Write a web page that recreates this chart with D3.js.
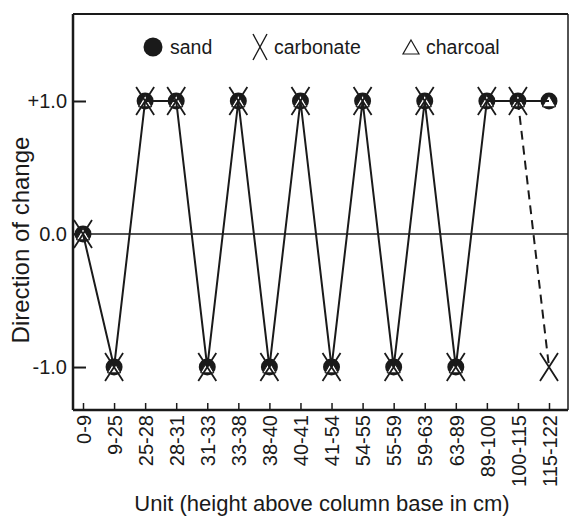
<!DOCTYPE html>
<html><head><meta charset="utf-8">
<script src="https://cdn.jsdelivr.net/npm/d3@7"></script>
<style>body{margin:0;background:#fff;} text{font-family:"Liberation Sans",Arial,sans-serif;fill:#1a1a1a;}</style>
</head><body>
<svg id="c" width="570" height="516"></svg>
<script>
const categories = ["0-9","9-25","25-28","28-31","31-33","33-38","38-40","40-41","41-54","54-55","55-59","59-63","63-89","89-100","100-115","115-122"];
const sand      = [0,-1,1,1,-1,1,-1,1,-1,1,-1,1,-1,1,1,1];
const carbonate = [0,-1,1,1,-1,1,-1,1,-1,1,-1,1,-1,1,1,-1];
const charcoal  = [0,-1,1,1,-1,1,-1,1,-1,1,-1,1,-1,1,1,1];
const yTickValues = [-1,0,1];
const yTickLabels = ["-1.0","0.0","+1.0"];

const svg = d3.select("#c");
const m = {left:73, top:14, right:2, bottom:106};
const W = 570 - m.left - m.right, H = 516 - m.top - m.bottom;
const g = svg.append("g").attr("transform",`translate(${m.left},${m.top})`);

const x = d3.scalePoint().domain(categories).range([10, 476]);
const y = d3.scaleLinear().domain([-1.323, 1.654]).range([H, 0]);
const FS = 19.5;

// zero line
g.append("line").attr("x1",0).attr("x2",W).attr("y1",y(0)).attr("y2",y(0))
  .attr("stroke","#1a1a1a").attr("stroke-width",1.5);

// top & right border
g.append("line").attr("x1",0).attr("x2",W).attr("y1",0).attr("y2",0).attr("stroke","#1a1a1a").attr("stroke-width",2);
g.append("line").attr("x1",W).attr("x2",W).attr("y1",0).attr("y2",H).attr("stroke","#1a1a1a").attr("stroke-width",1.5);

// axes
const yAxis = d3.axisLeft(y).tickValues(yTickValues).tickSize(-13)
  .tickFormat((d,i)=>yTickLabels[i]);
const ya = g.append("g").call(yAxis);
ya.select(".domain").attr("stroke","#1a1a1a").attr("stroke-width",2.5).attr("d",`M0,0V${H}`);
ya.selectAll(".tick line").attr("stroke","#1a1a1a").attr("stroke-width",2);
ya.selectAll(".tick text").attr("font-size",20).attr("font-family","Liberation Sans, Arial, sans-serif").attr("fill","#1a1a1a").attr("x",-6);

const xAxis = d3.axisBottom(x).tickSize(-7);
const xa = g.append("g").attr("transform",`translate(0,${H})`).call(xAxis);
xa.select(".domain").attr("stroke","#1a1a1a").attr("stroke-width",2.5).attr("d",`M0,0H${W}`);
xa.selectAll(".tick line").attr("stroke","#1a1a1a").attr("stroke-width",1.5);
xa.selectAll(".tick text").attr("font-size",20).attr("font-family","Liberation Sans, Arial, sans-serif").attr("fill","#1a1a1a")
  .attr("transform","rotate(-90)").attr("text-anchor","end").attr("x",-5).attr("y",0).attr("dy","0.36em");

// markers (circles + triangles under lines)
g.selectAll(".sand").data(sand).enter().append("circle")
  .attr("cx",(d,i)=>x(categories[i])).attr("cy",d=>y(d)).attr("r",8.5).attr("fill","#1a1a1a");
const tri = d3.symbol().type(d3.symbolTriangle).size(75);
g.selectAll(".char").data(charcoal).enter().append("path")
  .attr("d",tri).attr("transform",(d,i)=>`translate(${x(categories[i])},${y(d)+2})`)
  .attr("fill","#fff").attr("stroke","#1a1a1a").attr("stroke-width",1);

// lines
const line = d3.line().x((d,i)=>x(categories[i])).y(d=>y(d));
g.append("path").datum(sand).attr("d",line).attr("fill","none").attr("stroke","#1a1a1a").attr("stroke-width",2);
const n = categories.length;
g.append("path").datum(carbonate.slice(n-2)).attr("d",d3.line().x((d,i)=>x(categories[n-2+i])).y(d=>y(d)))
  .attr("fill","none").attr("stroke","#1a1a1a").attr("stroke-width",2).attr("stroke-dasharray","9,6");

function xMark(sel, hw, hh){
  sel.attr("d",`M${-hw},${-hh}L${hw},${hh}M${hw},${-hh}L${-hw},${hh}`)
     .attr("fill","none").attr("stroke","#1a1a1a").attr("stroke-width",1.8);
}
g.selectAll(".carb").data(carbonate).enter().append("path")
  .attr("transform",(d,i)=>`translate(${x(categories[i])},${y(d)})`).call(xMark,9,14);

// legend
const lg = svg.append("g");
lg.append("circle").attr("cx",153).attr("cy",47).attr("r",9.5).attr("fill","#1a1a1a");
lg.append("text").attr("x",170).attr("y",54).attr("font-size",FS).text("sand");
lg.append("path").attr("transform","translate(260,47)").call(xMark,7,13).attr("stroke-width",1.4);
lg.append("text").attr("x",274).attr("y",54).attr("font-size",FS).text("carbonate");
lg.append("path").attr("d","M411,40L419,54L403,54Z").attr("fill","none").attr("stroke","#1a1a1a").attr("stroke-width",1.2);
lg.append("text").attr("x",426).attr("y",54).attr("font-size",FS).text("charcoal");

// axis titles
svg.append("text").attr("x",322).attr("y",511).attr("text-anchor","middle").attr("font-size",22)
  .text("Unit (height above column base in cm)");
svg.append("text").attr("transform","translate(29,240) rotate(-90)").attr("text-anchor","middle").attr("font-size",24)
  .text("Direction of change");
</script>
</body></html>
